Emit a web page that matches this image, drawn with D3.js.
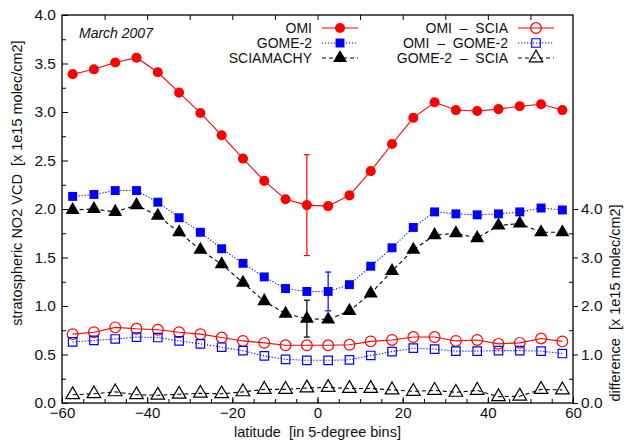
<!DOCTYPE html>
<html>
<head>
<meta charset="utf-8">
<script src="https://cdn.jsdelivr.net/npm/d3@7"></script>
<style>
body { margin: 0; background: #fff; }
text { font-family: "Liberation Sans", Arial, sans-serif; fill: #111; white-space: pre; }
</style>
</head>
<body>
<div id="chart"></div>
<script>
var lat = [-57.5,-52.5,-47.5,-42.5,-37.5,-32.5,-27.5,-22.5,-17.5,-12.5,-7.5,-2.5,
           2.5,7.5,12.5,17.5,22.5,27.5,32.5,37.5,42.5,47.5,52.5,57.5];

var omi   = [3.39,3.44,3.51,3.56,3.41,3.20,2.99,2.76,2.52,2.29,2.10,2.04,
             2.03,2.14,2.39,2.67,2.94,3.10,3.02,3.01,3.03,3.06,3.08,3.02];
var gome2 = [2.13,2.15,2.19,2.19,2.07,1.91,1.76,1.59,1.44,1.30,1.18,1.15,
             1.15,1.22,1.41,1.60,1.81,1.97,1.95,1.94,1.95,1.97,2.01,1.99];
var scia  = [1.99,2.00,1.97,2.04,1.93,1.76,1.58,1.43,1.24,1.05,0.92,0.87,
             0.86,0.95,1.13,1.36,1.58,1.73,1.75,1.70,1.83,1.85,1.76,1.76];

// differences (right axis)
var omiScia  = [1.42,1.46,1.56,1.53,1.51,1.46,1.42,1.35,1.28,1.24,1.19,1.19,
                1.19,1.20,1.27,1.30,1.36,1.36,1.28,1.30,1.22,1.24,1.33,1.27];
var omiGome  = [1.26,1.29,1.32,1.36,1.35,1.28,1.22,1.15,1.08,0.97,0.90,0.88,
                0.88,0.89,0.98,1.06,1.13,1.11,1.07,1.07,1.08,1.08,1.07,1.02];
var gomeScia = [0.17,0.19,0.23,0.17,0.16,0.18,0.20,0.19,0.23,0.28,0.28,0.31,
                0.32,0.30,0.30,0.27,0.24,0.26,0.22,0.26,0.13,0.14,0.28,0.27];

// error bars: [lat, value, half-width]
var omiErr  = [-2.5, 2.04, 0.52];
var gomeErr = [2.5, 1.15, 0.20];
var sciaErr = [-2.5, 0.87, 0.19];

var xTicks = [-60,-40,-20,0,20,40,60];
var yTicks = [0,0.5,1,1.5,2,2.5,3,3.5,4];
var y2Ticks = [0,1,2,3,4];

var W = 625, H = 443;
var m = {left: 62, right: 52, top: 15, bottom: 40};

var svg = d3.select("#chart").append("svg")
  .attr("width", W).attr("height", H);

var x = d3.scaleLinear().domain([-60, 60]).range([m.left, W - m.right]);
var y = d3.scaleLinear().domain([0, 4]).range([H - m.bottom, m.top]);
var y2 = d3.scaleLinear().domain([0, 8]).range([H - m.bottom, m.top]);

var x0 = x(-60), x1 = x(60), yb = y(0), yt = y(4);

// frame
svg.append("rect").attr("x", x0).attr("y", yt).attr("width", x1 - x0).attr("height", yb - yt)
  .attr("fill", "none").attr("stroke", "#000").attr("stroke-width", 1.3);

// bottom axis: labelled ticks every 20, minor every 5 (inward)
svg.append("g").attr("transform", "translate(0," + yb + ")")
  .call(d3.axisBottom(x).tickValues(d3.range(-55, 60, 5)).tickSize(-4).tickFormat(""))
  .call(g => g.select(".domain").remove());
svg.append("g").attr("transform", "translate(0," + yb + ")")
  .call(d3.axisBottom(x).tickValues(xTicks).tickSize(-6).tickPadding(4).tickFormat(d3.format("d")))
  .call(g => g.select(".domain").remove())
  .call(g => g.selectAll("text").attr("font-size", 15));

// top axis ticks every 10 (inward)
svg.append("g").attr("transform", "translate(0," + yt + ")")
  .call(d3.axisTop(x).tickValues(d3.range(-50, 60, 10)).tickSize(-5).tickFormat(""))
  .call(g => g.select(".domain").remove());

// left axis
svg.append("g").attr("transform", "translate(" + x0 + ",0)")
  .call(d3.axisLeft(y).tickValues(d3.range(0.25, 4, 0.5)).tickSize(-4).tickFormat(""))
  .call(g => g.select(".domain").remove());
svg.append("g").attr("transform", "translate(" + x0 + ",0)")
  .call(d3.axisLeft(y).tickValues(yTicks).tickSize(-6).tickPadding(6).tickFormat(d3.format(".1f")))
  .call(g => g.select(".domain").remove())
  .call(g => g.selectAll("text").attr("font-size", 15.5));

// right axis (difference)
svg.append("g").attr("transform", "translate(" + x1 + ",0)")
  .call(d3.axisRight(y2).tickValues([0.5,1.5,2.5,3.5]).tickSize(-4).tickFormat(""))
  .call(g => g.select(".domain").remove());
svg.append("g").attr("transform", "translate(" + x1 + ",0)")
  .call(d3.axisRight(y2).tickValues(y2Ticks).tickSize(5).tickPadding(3).tickFormat(d3.format(".1f")))
  .call(g => g.select(".domain").remove())
  .call(g => g.selectAll("text").attr("font-size", 15.5));

svg.selectAll(".tick line").attr("stroke", "#000");

// axis titles
svg.append("text").attr("x", (x0 + x1) / 2).attr("y", 437).attr("text-anchor", "middle")
  .attr("font-size", 14.5).text("latitude  [in 5-degree bins]");
svg.append("text").attr("transform", "translate(22,183) rotate(-90)").attr("text-anchor", "middle")
  .attr("font-size", 14.5).text("stratospheric NO2 VCD  [x 1e15 molec/cm2]");
svg.append("text").attr("transform", "translate(620,303) rotate(-90)").attr("text-anchor", "middle")
  .attr("font-size", 14.5).text("difference  [x 1e15 molec/cm2]");

svg.append("text").attr("x", 79).attr("y", 38).attr("font-size", 14)
  .attr("font-style", "italic").text("March 2007");

// series definitions
var series = [
  {name: "OMI", vals: omi, sc: y, color: "#ff0000", dash: null, marker: "circle", fill: true},
  {name: "GOME-2", vals: gome2, sc: y, color: "#0000ff", dash: "1.2,1.8", marker: "square", fill: true},
  {name: "SCIAMACHY", vals: scia, sc: y, color: "#000000", dash: "4,3", marker: "triangle", fill: true},
  {name: "OMI  \u2013  SCIA", vals: omiScia, sc: y2, color: "#ff0000", dash: null, marker: "circle", fill: false},
  {name: "OMI  \u2013  GOME-2", vals: omiGome, sc: y2, color: "#0000ff", dash: "1.2,1.8", marker: "square", fill: false},
  {name: "GOME-2  \u2013  SCIA", vals: gomeScia, sc: y2, color: "#000000", dash: "4,3", marker: "triangle", fill: false}
];

var sym = {
  circle: d3.symbol().type(d3.symbolCircle).size(80),
  square: d3.symbol().type(d3.symbolSquare).size(80),
  triangle: d3.symbol().type(d3.symbolTriangle).size(85)
};
var symOpen = {
  circle: d3.symbol().type(d3.symbolCircle).size(90),
  square: d3.symbol().type(d3.symbolSquare).size(72),
  triangle: d3.symbol().type(d3.symbolTriangle).size(80)
};

function drawMarker(g, s, px, py) {
  var gen = s.fill ? sym[s.marker] : symOpen[s.marker];
  g.append("path").attr("d", gen())
    .attr("transform", "translate(" + px + "," + py + ")")
    .attr("fill", s.fill ? s.color : "none")
    .attr("stroke", s.color)
    .attr("stroke-width", s.fill ? 0 : 1.2);
}

// error bars
[[omiErr, "#ff0000"], [gomeErr, "#0000ff"], [sciaErr, "#000000"]].forEach(function (e) {
  var d = e[0], cx = x(d[0]), ylo = y(d[1] - d[2]), yhi = y(d[1] + d[2]);
  var g = svg.append("g").attr("stroke", e[1]).attr("stroke-width", 1.2);
  g.append("line").attr("x1", cx).attr("x2", cx).attr("y1", ylo).attr("y2", yhi);
  g.append("line").attr("x1", cx - 3).attr("x2", cx + 3).attr("y1", ylo).attr("y2", ylo);
  g.append("line").attr("x1", cx - 3).attr("x2", cx + 3).attr("y1", yhi).attr("y2", yhi);
});

series.forEach(function (s) {
  var line = d3.line().x((d, i) => x(lat[i])).y(d => s.sc(d));
  svg.append("path").datum(s.vals).attr("d", line)
    .attr("fill", "none").attr("stroke", s.color).attr("stroke-width", 1.1)
    .attr("stroke-dasharray", s.dash);
  var g = svg.append("g");
  s.vals.forEach(function (v, i) { drawMarker(g, s, x(lat[i]), s.sc(v)); });
});

// legend
var legRows = [28, 43, 58];
series.forEach(function (s, i) {
  var col = i < 3 ? 0 : 1;
  var ly = legRows[i % 3];
  var tx = col === 0 ? 312 : 508;
  var l0 = tx + 10, l1 = tx + 46;
  svg.append("text").attr("x", tx).attr("y", ly + 5).attr("text-anchor", "end")
    .attr("font-size", 14).text(s.name);
  svg.append("line").attr("x1", l0).attr("x2", l1).attr("y1", ly).attr("y2", ly)
    .attr("stroke", s.color).attr("stroke-width", 1.1).attr("stroke-dasharray", s.dash);
  drawMarker(svg, s, (l0 + l1) / 2, ly);
});
</script>
</body>
</html>
